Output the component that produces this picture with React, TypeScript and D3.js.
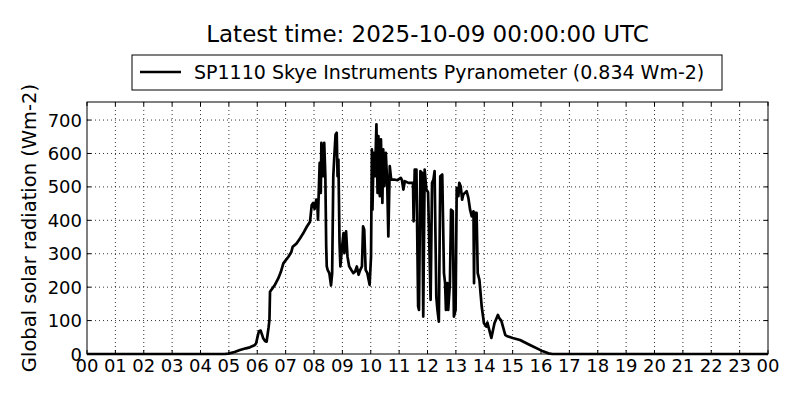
import React from "react";
import * as d3 from "d3";

const TITLE = "Latest time: 2025-10-09 00:00:00 UTC";
const SERIES_NAME = "SP1110 Skye Instruments Pyranometer (0.834 Wm-2)";
const Y_LABEL = "Global solar radiation (Wm-2)";

const hours: number[] = [
  0, 4.85, 4.98, 5.2, 5.39, 5.6, 5.74, 5.9, 5.96, 6.02, 6.06, 6.12, 6.18, 6.21, 6.28, 6.33, 6.4, 6.43, 6.45,
  6.55, 6.63, 6.74, 6.83, 6.92, 7.0, 7.1, 7.2, 7.25, 7.39, 7.5, 7.62, 7.74, 7.86, 7.92, 7.97, 8.02, 8.08,
  8.12, 8.14, 8.17, 8.2, 8.24, 8.26, 8.32, 8.36, 8.4, 8.43, 8.45, 8.48, 8.54, 8.6, 8.64, 8.68, 8.71, 8.76,
  8.8, 8.83, 8.86, 8.9, 8.93, 8.98, 9.04, 9.07, 9.13, 9.18, 9.24, 9.31, 9.39, 9.45, 9.51, 9.57, 9.63, 9.69,
  9.73, 9.77, 9.82, 9.88, 9.96, 10.01, 10.04, 10.06, 10.1, 10.15, 10.2, 10.24, 10.27, 10.32, 10.36, 10.41,
  10.44, 10.48, 10.53, 10.58, 10.62, 10.67, 10.72, 10.82, 10.94, 11.06, 11.1, 11.15, 11.2, 11.33, 11.43,
  11.49, 11.51, 11.55, 11.61, 11.67, 11.7, 11.75, 11.81, 11.85, 11.9, 11.96, 12.02, 12.11, 12.16, 12.21,
  12.25, 12.31, 12.35, 12.4, 12.45, 12.52, 12.58, 12.62, 12.65, 12.7, 12.73, 12.79, 12.83, 12.89, 12.93,
  12.99, 13.03, 13.09, 13.12, 13.17, 13.22, 13.26, 13.32, 13.38, 13.44, 13.5, 13.56, 13.62, 13.64, 13.66,
  13.73, 13.77, 13.83, 13.91, 13.99, 14.07, 14.11, 14.25, 14.36, 14.48, 14.53, 14.6, 14.74, 14.79, 15.0,
  15.26, 15.61, 16.02, 16.26, 16.4, 24,
];

const radiation: number[] = [
  0, 0, 1, 6, 12, 17, 20, 26, 32, 55, 68, 70, 55, 47, 38, 37, 80, 102, 186,
  198, 208, 226, 245, 271, 280, 291, 305, 321, 331, 345, 361, 380, 396, 446, 452, 434, 462,
  442, 402, 492, 572, 482, 632, 532, 632, 532, 322, 262, 252, 242, 205, 242, 532, 582, 657,
  662, 532, 582, 332, 262, 312, 362, 302, 367, 292, 262, 252, 242, 247, 262, 237, 252, 262,
  382, 372, 252, 242, 207, 292, 612, 432, 602, 532, 687, 482, 652, 472, 642, 452,
  612, 502, 602, 512, 352, 562, 522, 522, 520, 527, 520, 492, 517, 512, 512,
  512, 397, 552, 552, 142, 132, 547, 542, 112, 552, 492, 484, 162, 512, 522,
  547, 172, 132, 97, 532, 537, 242, 212, 132, 212, 132, 212, 432, 427, 112,
  132, 497, 472, 512, 502, 462, 477, 482, 487, 467, 432, 412, 427, 212, 422,
  422, 242, 222, 142, 92, 82, 94, 48, 92, 117, 107, 100, 57, 54, 48,
  42, 27, 10, 2, 0, 0,
];

const xTickValues: number[] = d3.range(0, 25);
const xTickLabels: string[] = xTickValues.map((h) => String(h % 24).padStart(2, "0"));
const yTickValues: number[] = [0, 100, 200, 300, 400, 500, 600, 700];

const W = 800;
const H = 400;
const M = { left: 87, right: 768, top: 102, bottom: 354 };
const FONT = "DejaVu Sans, sans-serif";

export default function App() {
  const x = d3.scaleLinear().domain([0, 24]).range([M.left, M.right]);
  const y = d3.scaleLinear().domain([0, 754]).range([M.bottom, M.top]);
  const pts: [number, number][] = hours.map((h, i) => [h, radiation[i]]);
  const line = d3
    .line<[number, number]>()
    .x((d) => x(d[0]))
    .y((d) => y(d[1]));

  const tick = 4;
  return (
    <svg
      width={W}
      height={H}
      style={{ position: "absolute", left: 0, top: 0, background: "#fff" }}
      fontFamily={FONT}
    >
      <rect x={0} y={0} width={W} height={H} fill="#fff" />
      {xTickValues.slice(1, -1).map((v) => (
        <line key={"gx" + v} x1={x(v)} x2={x(v)} y1={M.top} y2={M.bottom} stroke="#000" strokeWidth={0.8} strokeDasharray="1,3" />
      ))}
      {yTickValues.slice(1).map((v) => (
        <line key={"gy" + v} x1={M.left} x2={M.right} y1={y(v)} y2={y(v)} stroke="#000" strokeWidth={0.8} strokeDasharray="1,3" />
      ))}
      {xTickValues.map((v) => (
        <g key={"tx" + v}>
          <line x1={x(v)} x2={x(v)} y1={M.bottom} y2={M.bottom - tick} stroke="#000" />
          <line x1={x(v)} x2={x(v)} y1={M.top} y2={M.top + tick} stroke="#000" />
        </g>
      ))}
      {yTickValues.map((v) => (
        <g key={"ty" + v}>
          <line x1={M.left} x2={M.left + tick} y1={y(v)} y2={y(v)} stroke="#000" />
          <line x1={M.right} x2={M.right - tick} y1={y(v)} y2={y(v)} stroke="#000" />
        </g>
      ))}
      <path d={line(pts) || ""} fill="none" stroke="#000" strokeWidth={2.7} strokeLinejoin="round" />
      <rect x={M.left} y={M.top} width={M.right - M.left} height={M.bottom - M.top} fill="none" stroke="#000" strokeWidth={1} />
      {xTickValues.map((v, i) => (
        <text key={"lx" + v} x={x(v)} y={M.bottom + 18} textAnchor="middle" fontSize={18}>
          {xTickLabels[i]}
        </text>
      ))}
      {yTickValues.map((v) => (
        <text key={"ly" + v} x={M.left - 5} y={y(v) + 6.5} textAnchor="end" fontSize={18}>
          {v}
        </text>
      ))}
      <text
        transform={`translate(36, 228) rotate(-90)`}
        textAnchor="middle"
        fontSize={19.5}
      >
        {Y_LABEL}
      </text>
      <text x={(M.left + M.right) / 2} y={42} textAnchor="middle" fontSize={23}>
        {TITLE}
      </text>
      <rect x={132} y={55} width={590} height={35} fill="#fff" stroke="#000" strokeWidth={1} />
      <line x1={140} x2={181} y1={72} y2={72} stroke="#000" strokeWidth={2.7} />
      <text x={194} y={79} fontSize={19}>
        {SERIES_NAME}
      </text>
    </svg>
  );
}
